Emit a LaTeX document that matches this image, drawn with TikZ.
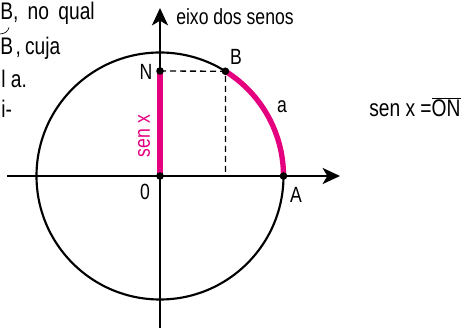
\documentclass[tikz,border=0pt]{standalone}
\usepackage{fontspec}
\setmainfont{Liberation Sans}[FakeStretch=0.8]
\usepackage{tikz}
\usetikzlibrary{calc,positioning}
\usetikzlibrary{arrows.meta}
\definecolor{senpink}{RGB}{228,0,126}

\begin{document}
\begin{tikzpicture}[x=0.75pt,y=0.75pt,
				 axisline/.style={line width=2pt,-{Stealth[length=13pt,width=12pt,inset=3.5pt]}},
				 sinline/.style={color=senpink,line width=4pt},
				 lbl/.style={font=\fontsize{16.5}{19}\selectfont,inner sep=0pt},
				 bodytxt/.style={font=\fontsize{18}{21}\selectfont,inner sep=0pt,anchor=base west}]
								 %\draw[color=gray,step=10, help lines,opacity=0.3] (0,0) grid (461,328); %help grids
								 \useasboundingbox (0,0) rectangle (461,328);
								 \def\mdot#1{
												\fill #1 circle [radius=3.8];
								 };
								 % text cut at the left
								 \node[bodytxt] (lineA) at (0,308) {B,\hspace{7pt}no\hspace{7pt}qual};
								 \node[bodytxt] (lineB) at (0,273) {B\hspace{2pt},\hspace{3pt}cuja};
								 \draw[line width=0.5pt] (0,294) .. controls (5,294.5) and (8,296.5) .. (9,300.5);
								 \node[bodytxt] (lineC) at (1,240) {l a.};
								 \node[bodytxt] (lineD) at (1,210) {i-};
								 % points
								 \coordinate (O) at (160,152);
								 \coordinate (A) at (283.5,152);
								 \coordinate (N) at (160,257);
								 \coordinate (B) at ($(O)+(58:123.5)$);
								 \coordinate (Bx) at (B |- O);
								 \coordinate (xl) at (7,152);
								 \coordinate (xr) at (340,152);
								 \coordinate (yb) at (160,0);
								 \coordinate (yt) at (160,320);
								 \draw[line width=1.6pt] (O) circle [radius=123.5];
								 \draw[axisline] (xl)--(xr);
								 \draw[axisline] (yb)--(yt);
								 \draw[line width=1pt,dash pattern=on 4.5pt off 3pt] (N)--(B)--(Bx);
								 \draw[sinline] (O)--(N);
								 \draw[sinline] (B) arc [start angle=58,end angle=0,radius=123.5];
								 \mdot{(O)};
								 \mdot{(A)};
								 \mdot{(N)};
								 \mdot{(B)};
								 % labels
								 \node[lbl] (labN) at (146,256) {N};
								 \node[lbl] (labB) at (236,271) {B};
								 \node[lbl] (labO) at (145,136) {0};
								 \node[lbl] (labA) at (296,133) {A};
								 \node[lbl] (laba) at (282,221) {a};
								 \node[lbl,text=senpink,rotate=90] (labsen) at (144,192) {sen x};
								 \node[lbl,anchor=west] (labeixo) at (176,311) {eixo dos senos};
								 \node[lbl,anchor=west,font=\fontsize{18}{21}\selectfont] (labeq) at (369,221) {sen x =\ensuremath{\overline{\mbox{ON}}}};
\end{tikzpicture}
\end{document}
